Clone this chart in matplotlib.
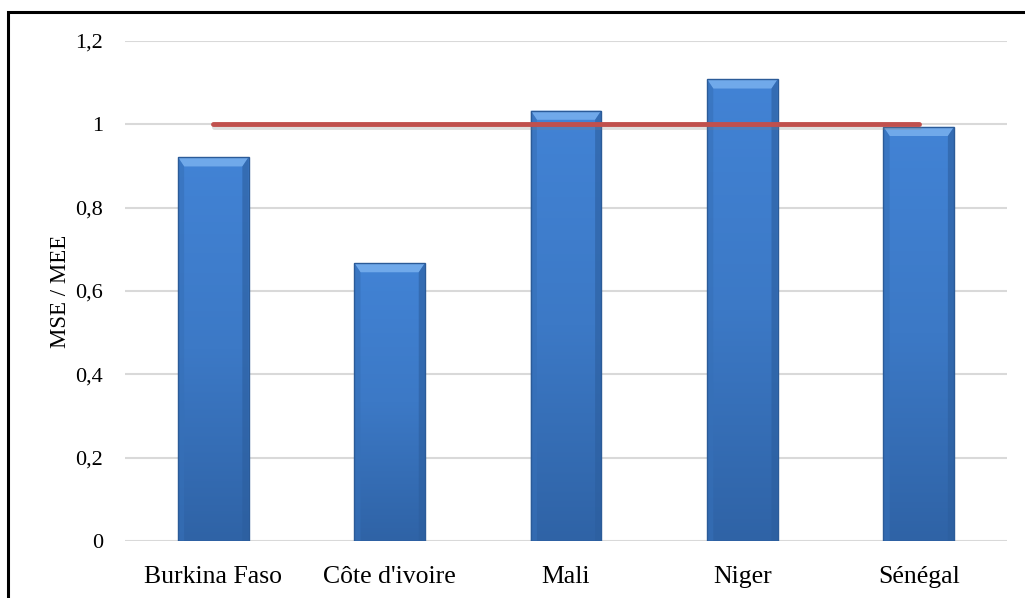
import numpy as np
import matplotlib
matplotlib.use("Agg")
import matplotlib.pyplot as plt
from matplotlib.patches import Rectangle, Polygon
from matplotlib.colors import LinearSegmentedColormap
import matplotlib.patheffects as pe

# data
pays = ["Burkina Faso", "Côte d'ivoire", "Mali", "Niger", "Sénégal"]
ratio = [0.921, 0.667, 1.033, 1.108, 0.994]
reference = [1, 1, 1, 1, 1]
yticks = [0, 0.2, 0.4, 0.6, 0.8, 1.0, 1.2]
ytick_labels = ["0", "0,2", "0,4", "0,6", "0,8", "1", "1,2"]

plt.rcParams["font.family"] = ["Liberation Serif", "DejaVu Serif"]

fig = plt.figure(figsize=(10.25, 5.98), dpi=100)
ax = fig.add_axes([0.122, 0.0953, 0.8604, 0.8361])

x = np.arange(len(pays))
width = 0.40
bars = ax.bar(x, ratio, width=width, color="none", edgecolor="#2B5B98", linewidth=1.0, zorder=3)

# vertical gradient inside every bar
cmap = LinearSegmentedColormap.from_list("bleu", ["#2F63A6", "#3C79C6", "#4283D5"])
grad = np.linspace(0, 1, 256).reshape(-1, 1)
for b in bars:
    x0, y0 = b.get_x(), b.get_y()
    w, h = b.get_width(), b.get_height()
    im = ax.imshow(grad, extent=[x0, x0 + w, y0, y0 + h], origin="lower",
                   cmap=cmap, aspect="auto", zorder=2)
    im.set_clip_path(b)
    # bevel on top
    dx, dy = 0.035, 0.022
    ax.add_patch(Polygon([[x0, y0 + h], [x0 + w, y0 + h], [x0 + w - dx, y0 + h - dy], [x0 + dx, y0 + h - dy]],
                         closed=True, facecolor="#7DB3F0", edgecolor="none", zorder=2.5, alpha=0.8))
    ax.add_patch(Polygon([[x0, y0 + h], [x0 + dx, y0 + h - dy], [x0 + dx, y0], [x0, y0]],
                         closed=True, facecolor="#3670B8", edgecolor="none", zorder=2.5, alpha=0.6))
    ax.add_patch(Polygon([[x0 + w, y0 + h], [x0 + w - dx, y0 + h - dy], [x0 + w - dx, y0], [x0 + w, y0]],
                         closed=True, facecolor="#2C5E9E", edgecolor="none", zorder=2.5, alpha=0.6))

ax.plot(x, reference, color="#C0504D", linewidth=3.5, solid_capstyle="round", zorder=4,
        path_effects=[pe.SimpleLineShadow(offset=(0.5, -2), shadow_color="grey", alpha=0.25), pe.Normal()])

ax.set_xlim(-0.5, len(pays) - 0.5)
ax.set_ylim(0, 1.2)
ax.set_yticks(yticks)
ax.set_yticklabels(ytick_labels, fontsize=16)
ax.set_xticks(x)
ax.set_xticklabels(pays, fontsize=18.5)
ax.tick_params(length=0, pad=16, axis="y")
ax.tick_params(length=0, pad=18, axis="x")
ax.yaxis.grid(True, color="#D9D9D9", linewidth=1.5, zorder=0)
ax.set_axisbelow(True)
for s in ax.spines.values():
    s.set_visible(False)
ax.set_ylabel("MSE / MEE", fontsize=16.5, labelpad=3)

# figure frame (only top and left visible in the original)
fig.patches.append(Rectangle((8 / 1025, -0.2), 1.2, 1.2 - 12 / 598 + 0.0, transform=fig.transFigure,
                             fill=False, edgecolor="black", linewidth=2.2))

fig.savefig("out.png", dpi=100)
